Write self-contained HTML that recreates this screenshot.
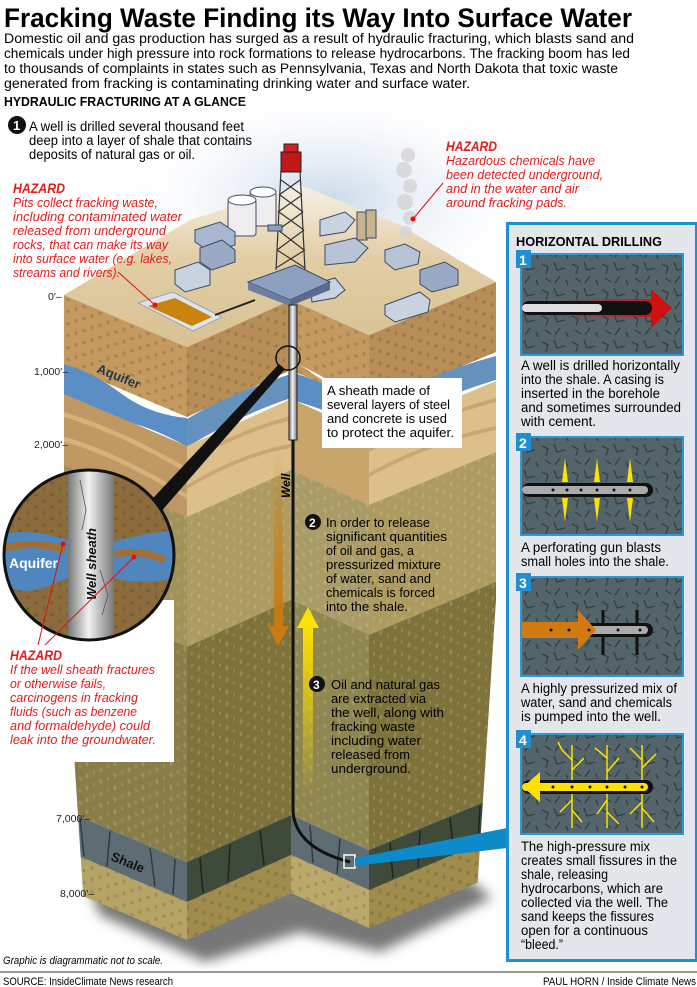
<!DOCTYPE html>
<html><head><meta charset="utf-8"><style>
html,body{margin:0;padding:0;background:#fff;}
svg{display:block;}
text{font-family:"Liberation Sans Narrow","Liberation Sans",sans-serif;}
</style></head><body>
<svg width="697" height="987" viewBox="0 0 697 987" xmlns="http://www.w3.org/2000/svg">
<defs>
<radialGradient id="sky" cx="0.5" cy="0.5" r="0.5"><stop offset="0" stop-color="#c9d9ea"/><stop offset="1" stop-color="#ffffff" stop-opacity="0"/></radialGradient>
<linearGradient id="pad" x1="0" y1="0" x2="0" y2="1"><stop offset="0" stop-color="#f6f1e4"/><stop offset="0.45" stop-color="#e2cea6"/><stop offset="1" stop-color="#d9c194"/></linearGradient>
<pattern id="dots" width="16" height="12" patternUnits="userSpaceOnUse"><ellipse cx="4" cy="3" rx="2.2" ry="1.5" fill="#000" opacity="0.13"/><ellipse cx="12" cy="9" rx="1.6" ry="2.2" fill="#000" opacity="0.12"/></pattern>
<pattern id="ldots" width="14" height="12" patternUnits="userSpaceOnUse"><ellipse cx="3" cy="3" rx="1.5" ry="2.5" fill="#fff" opacity="0.15"/><ellipse cx="10" cy="9" rx="1.2" ry="2" fill="#fff" opacity="0.12"/></pattern>
<pattern id="stone" width="30" height="26" patternUnits="userSpaceOnUse"><rect width="30" height="26" fill="#53646b"/><path d="M2 4 l6 3 -2 7 M14 2 l3 8 8 -2 M20 16 l-5 7 M5 18 l6 4 M26 20 l2 5" stroke="#34403f" stroke-width="1.3" fill="none"/></pattern>
<linearGradient id="orng" x1="0" y1="0" x2="0" y2="1"><stop offset="0" stop-color="#c97a10" stop-opacity="0"/><stop offset="1" stop-color="#c97a10"/></linearGradient>
<linearGradient id="yel" x1="0" y1="1" x2="0" y2="0"><stop offset="0" stop-color="#ffe100" stop-opacity="0"/><stop offset="1" stop-color="#ffe100"/></linearGradient>
<linearGradient id="red" x1="0" y1="0" x2="1" y2="0"><stop offset="0" stop-color="#d01010" stop-opacity="0"/><stop offset="1" stop-color="#d01010"/></linearGradient>
<linearGradient id="pipeg" x1="0" y1="0" x2="1" y2="0"><stop offset="0" stop-color="#777"/><stop offset="0.45" stop-color="#f2f2f2"/><stop offset="1" stop-color="#777"/></linearGradient>
<filter id="blur"><feGaussianBlur stdDeviation="6"/></filter>
<clipPath id="circ"><circle cx="89" cy="555" r="85"/></clipPath>
</defs>

<text x="4" y="27" font-size="27" font-weight="bold" textLength="628" lengthAdjust="spacingAndGlyphs">Fracking Waste Finding its Way Into Surface Water</text>
<g font-size="13.5">
<text x="4" y="43" textLength="630" lengthAdjust="spacingAndGlyphs">Domestic oil and gas production has surged as a result of hydraulic fracturing, which blasts sand and</text>
<text x="4" y="58" textLength="626" lengthAdjust="spacingAndGlyphs">chemicals under high pressure into rock formations to release hydrocarbons. The fracking boom has led</text>
<text x="4" y="73" textLength="614" lengthAdjust="spacingAndGlyphs">to thousands of complaints in states such as Pennsylvania, Texas and North Dakota that toxic waste</text>
<text x="4" y="88" textLength="466" lengthAdjust="spacingAndGlyphs">generated from fracking is contaminating drinking water and surface water.</text>
</g>
<text x="4" y="106" font-size="13" font-weight="bold" textLength="242" lengthAdjust="spacingAndGlyphs">HYDRAULIC FRACTURING AT A GLANCE</text>

<ellipse cx="330" cy="200" rx="220" ry="120" fill="url(#sky)"/>

<polygon points="100,915 205,962 300,932 380,952 492,898 470,880 90,890" fill="#777" filter="url(#blur)"/>

<clipPath id="fa"><polygon points="64,260 187,300 187,1000 90,1000 64,600"/></clipPath>
<g clip-path="url(#fa)"><g transform="matrix(1,0.4228,0,1,0,267.94)">
<rect x="60" y="0" width="130" height="70" fill="#c49a60"/><rect x="60" y="0" width="130" height="70" fill="url(#dots)"/>
<path d="M60 70 Q90 64 120 74 T190 70 V100 Q150 94 120 102 T60 98Z" fill="#5b8ec4"/>
<rect x="60" y="99" width="130" height="72" fill="#c09863"/>
<path d="M60 120 Q120 112 190 124 M60 145 Q110 136 190 150" stroke="#d4b27c" stroke-width="5" fill="none"/>
<rect x="60" y="170" width="130" height="132" fill="#a09259"/><rect x="60" y="170" width="130" height="132" fill="url(#ldots)"/>
<rect x="60" y="300" width="130" height="215" fill="#8a7e48"/><rect x="60" y="300" width="130" height="215" fill="url(#ldots)"/>
<rect x="60" y="515" width="130" height="40" fill="#5e6d74"/>
<path d="M80 517 l4 36 M110 517 l-3 36 M150 517 l5 36 M175 517 l-2 36" stroke="#2e3a3e" stroke-width="1.5"/>
<rect x="60" y="555" width="130" height="38" fill="#b6a467"/><rect x="60" y="555" width="130" height="38" fill="url(#dots)"/>
</g></g>
<g transform="matrix(1,-0.452,0,1,0,431.5)">
<rect x="187" y="0" width="104" height="70" fill="#b78e58"/><rect x="187" y="0" width="104" height="70" fill="url(#dots)"/>
<path d="M187 72 Q230 66 291 74 V98 Q240 92 187 100Z" fill="#6592bd"/>
<rect x="187" y="99" width="104" height="72" fill="#dcbf89"/>
<path d="M187 115 Q240 108 291 118 M187 140 Q240 132 291 146" stroke="#c9a771" stroke-width="4" fill="none"/>
<rect x="187" y="170" width="104" height="132" fill="#ad9b5f"/><rect x="187" y="170" width="104" height="132" fill="url(#ldots)"/>
<rect x="187" y="300" width="104" height="215" fill="#7f733c"/><rect x="187" y="300" width="104" height="215" fill="url(#ldots)"/>
<rect x="187" y="515" width="104" height="40" fill="#3e4a3a"/>
<path d="M200 517 l3 36 M230 517 l-2 36 M260 517 l4 36" stroke="#1e261c" stroke-width="1.5"/>
<rect x="187" y="555" width="104" height="38" fill="#a08c4c"/><rect x="187" y="555" width="104" height="38" fill="url(#dots)"/>
</g>
<g transform="matrix(1,0.4487,0,1,0,169.4)">
<rect x="291" y="0" width="78" height="70" fill="#c49a60"/><rect x="291" y="0" width="78" height="70" fill="url(#dots)"/>
<path d="M291 72 Q330 66 369 74 V98 Q330 92 291 100Z" fill="#5b8ec4"/>
<rect x="291" y="99" width="78" height="72" fill="#c8a56b"/>
<rect x="291" y="170" width="78" height="132" fill="#aa9c66"/><rect x="291" y="170" width="78" height="132" fill="url(#ldots)"/>
<rect x="291" y="300" width="78" height="215" fill="#8f8650"/><rect x="291" y="300" width="78" height="215" fill="url(#ldots)"/>
<rect x="291" y="515" width="78" height="40" fill="#5e6d74"/>
<path d="M310 517 l3 36 M340 517 l-3 36" stroke="#2e3a3e" stroke-width="1.5"/>
<rect x="291" y="555" width="78" height="38" fill="#bba96c"/><rect x="291" y="555" width="78" height="38" fill="url(#dots)"/>
</g>
<clipPath id="fd"><polygon points="369,200 496,150 496,600 470,1000 369,1000"/></clipPath>
<g clip-path="url(#fd)"><g transform="matrix(1,-0.4173,0,1,0,489)">
<rect x="369" y="0" width="128" height="70" fill="#b78e58"/><rect x="369" y="0" width="128" height="70" fill="url(#dots)"/>
<path d="M369 72 Q430 64 497 74 V98 Q430 90 369 100Z" fill="#6592bd"/>
<rect x="369" y="99" width="128" height="72" fill="#dcbf89"/>
<path d="M369 115 Q430 108 497 118 M369 140 Q430 132 497 146" stroke="#c9a771" stroke-width="4" fill="none"/>
<rect x="369" y="170" width="128" height="132" fill="#ad9b5f"/><rect x="369" y="170" width="128" height="132" fill="url(#ldots)"/>
<rect x="369" y="300" width="128" height="215" fill="#7f733c"/><rect x="369" y="300" width="128" height="215" fill="url(#ldots)"/>
<rect x="369" y="515" width="128" height="40" fill="#3e4a3a"/>
<path d="M390 517 l3 36 M420 517 l-2 36 M450 517 l4 36 M480 517 l-2 36" stroke="#1e261c" stroke-width="1.5"/>
<rect x="369" y="555" width="128" height="38" fill="#a08c4c"/><rect x="369" y="555" width="128" height="38" fill="url(#dots)"/>
</g></g>

<polygon points="64,295 187,347 291,300 369,335 496,282 400,225 300,185 190,220" fill="url(#pad)"/>

<polygon points="138,303 173,292 222,317 193,331" fill="#dfe3ea" stroke="#9aa4b4"/>
<polygon points="148,306 175,298 212,317 192,326" fill="#c8840e"/>
<circle cx="155" cy="305" r="2.5" fill="#e01010"/>
<line x1="155" y1="305" x2="118" y2="272" stroke="#e01010" stroke-width="1"/>
<line x1="215" y1="315" x2="255" y2="300" stroke="#222" stroke-width="2"/>

<g stroke="#3c4a66" stroke-width="1">
<rect x="250" y="192" width="26" height="34" rx="3" fill="#eee"/><ellipse cx="263" cy="192" rx="13" ry="5" fill="#fff"/>
<rect x="228" y="200" width="28" height="36" rx="3" fill="#eee"/><ellipse cx="242" cy="200" rx="14" ry="5" fill="#fff"/>
<rect x="357" y="212" width="10" height="28" fill="#c6b48e"/><rect x="366" y="210" width="10" height="28" fill="#c6b48e"/>
<polygon points="195,230 220,222 235,232 235,245 210,252 195,242" fill="#a8b6cf"/>
<polygon points="200,248 222,240 235,250 235,262 212,270 200,262" fill="#9aaac4"/>
<polygon points="175,270 198,262 210,270 210,285 185,292 175,284" fill="#c8d2e0"/>
<polygon points="320,220 345,212 355,220 345,232 320,236" fill="#c8d2e0"/>
<polygon points="325,245 355,238 368,248 355,262 325,265" fill="#b8c4d6"/>
<polygon points="385,250 405,244 420,252 418,264 395,270 385,262" fill="#b8c4d6"/>
<polygon points="420,270 445,262 458,270 458,285 432,292 420,284" fill="#9aaac4"/>
<polygon points="385,305 420,292 430,300 428,312 395,322 385,315" fill="#c8d2e0"/>
<polygon points="310,285 335,278 345,290 335,298 312,302" fill="#c8d2e0"/>
</g>
<polygon points="248,282 295,265 330,282 290,300" fill="#8ea0c0" stroke="#3c4a66"/>
<polygon points="248,282 290,300 290,306 248,290" fill="#6c7fa2"/>
<polygon points="290,300 330,282 330,290 290,306" fill="#5a6c8e"/>
<g stroke="#333" stroke-width="1.2" fill="none">
<path d="M281 170 L276 270 M300 170 L305 270"/>
<path d="M281 180 L302 195 M300 180 L279 195 M280 195 L303 212 M302 195 L278 212 M279 212 L304 230 M303 212 L278 230 M278 230 L304 250 M304 230 L277 250 M277 250 L305 268 M305 250 L276 268"/>
</g>
<rect x="281" y="152" width="20" height="20" fill="#c01818" stroke="#222"/>
<rect x="284" y="144" width="14" height="8" fill="#d02020" stroke="#222"/>
<rect x="268" y="225" width="14" height="6" fill="#8ea0c0" stroke="#3c4a66"/>
<g fill="#d6d6d6" opacity="0.85"><circle cx="408" cy="155" r="7"/><circle cx="404" cy="170" r="8"/><circle cx="410" cy="186" r="7"/><circle cx="405" cy="202" r="8"/><circle cx="410" cy="218" r="7"/><circle cx="406" cy="232" r="6"/></g>
<circle cx="413" cy="219" r="2.5" fill="#e01010"/>
<line x1="413" y1="219" x2="443" y2="183" stroke="#e01010" stroke-width="1"/>

<rect x="289" y="305" width="8" height="135" fill="url(#pipeg)" stroke="#222" stroke-width="1"/>
<path d="M293 440 V812 Q296 848 350 862" stroke="#111" stroke-width="3" fill="none"/>
<rect x="344" y="855" width="11" height="13" fill="none" stroke="#fff" stroke-width="1.5"/>
<polygon points="355,858 507,828 507,848 355,866" fill="#0d8ac9"/>
<circle cx="288" cy="358" r="12" fill="none" stroke="#111" stroke-width="1.5"/>
<polygon points="300,365 352,392 340,392" fill="#fff"/>

<rect x="274" y="455" width="9" height="172" fill="url(#orng)"/>
<polygon points="268,626 289,626 278,646" fill="#c97a10"/>
<rect x="303" y="625" width="10" height="170" fill="url(#yel)"/>
<polygon points="297,628 319,628 308,607" fill="#ffe100"/>
<text transform="translate(290,498) rotate(-90)" font-size="12" font-weight="bold" font-style="italic">Well</text>

<text transform="translate(96,372) rotate(22)" font-size="13" font-weight="bold" fill="#1f3550">Aquifer</text>
<text transform="translate(110,860) rotate(22)" font-size="13" font-weight="bold" fill="#111">Shale</text>

<rect x="0" y="600" width="174" height="162" fill="#fff"/>
<rect x="0" y="470" width="64" height="140" fill="#fff"/>

<g font-size="10.5" fill="#222">
<text x="48" y="300">0'–</text>
<text x="34" y="375">1,000'–</text>
<text x="34" y="448">2,000'–</text>
<text x="56" y="822">7,000'–</text>
<text x="60" y="897">8,000'–</text>
</g>

<rect x="322" y="378" width="140" height="70" fill="#fff"/>
<g font-size="13">
<text x="327" y="395" textLength="103" lengthAdjust="spacingAndGlyphs">A sheath made of</text>
<text x="327" y="409" textLength="123" lengthAdjust="spacingAndGlyphs">several layers of steel</text>
<text x="327" y="423" textLength="120" lengthAdjust="spacingAndGlyphs">and concrete is used</text>
<text x="327" y="437" textLength="127" lengthAdjust="spacingAndGlyphs">to protect the aquifer.</text>
</g>

<circle cx="313" cy="522" r="8" fill="#111"/><text x="309" y="527" font-size="12" font-weight="bold" fill="#fff">2</text>
<g font-size="13">
<text x="326" y="527" textLength="104" lengthAdjust="spacingAndGlyphs">In order to release</text>
<text x="326" y="541" textLength="121" lengthAdjust="spacingAndGlyphs">significant quantities</text>
<text x="326" y="555" textLength="88" lengthAdjust="spacingAndGlyphs">of oil and gas, a</text>
<text x="326" y="569" textLength="115" lengthAdjust="spacingAndGlyphs">pressurized mixture</text>
<text x="326" y="583" textLength="105" lengthAdjust="spacingAndGlyphs">of water, sand and</text>
<text x="326" y="597" textLength="109" lengthAdjust="spacingAndGlyphs">chemicals is forced</text>
<text x="326" y="611" textLength="82" lengthAdjust="spacingAndGlyphs">into the shale.</text>
</g>
<circle cx="317" cy="684" r="8" fill="#111"/><text x="313" y="689" font-size="12" font-weight="bold" fill="#fff">3</text>
<g font-size="13">
<text x="331" y="689" textLength="109" lengthAdjust="spacingAndGlyphs">Oil and natural gas</text>
<text x="331" y="703" textLength="95" lengthAdjust="spacingAndGlyphs">are extracted via</text>
<text x="331" y="717" textLength="113" lengthAdjust="spacingAndGlyphs">the well, along with</text>
<text x="331" y="731" textLength="84" lengthAdjust="spacingAndGlyphs">fracking waste</text>
<text x="331" y="745" textLength="90" lengthAdjust="spacingAndGlyphs">including water</text>
<text x="331" y="759" textLength="79" lengthAdjust="spacingAndGlyphs">released from</text>
<text x="331" y="773" textLength="80" lengthAdjust="spacingAndGlyphs">underground.</text>
</g>

<polygon points="279,364 285,369 152,522 140,512" fill="#111"/>
<g clip-path="url(#circ)">
<rect x="0" y="465" width="180" height="180" fill="#8c6c3c"/>
<rect x="0" y="465" width="180" height="180" fill="url(#dots)"/>
<path d="M0 535 Q30 528 60 538 T120 540 T180 530 V578 Q140 585 110 578 T50 585 T0 580Z" fill="#4f86bd"/>
<path d="M5 548 Q35 540 65 550 M115 555 Q135 548 165 560" stroke="#b06a1a" stroke-width="7" fill="none" opacity="0.85"/>
<rect x="68" y="460" width="46" height="190" fill="url(#pipeg)"/>
<path d="M80 480 l6 30 -4 20 M100 570 l8 25 -6 20" stroke="#555" stroke-width="0.8" fill="none"/>
</g>
<circle cx="89" cy="555" r="85" fill="none" stroke="#111" stroke-width="3"/>
<text x="9" y="568" font-size="14" font-weight="bold" fill="#fff">Aquifer</text>
<text transform="translate(96,600) rotate(-90)" font-size="13" font-weight="bold" font-style="italic" fill="#111">Well sheath</text>
<circle cx="63" cy="544" r="2.5" fill="#e01010"/><circle cx="134" cy="557" r="2.5" fill="#e01010"/>
<line x1="63" y1="544" x2="38" y2="645" stroke="#e01010"/><line x1="134" y1="557" x2="45" y2="645" stroke="#e01010"/>

<g fill="#e31b1b" font-style="italic">
<text x="13" y="193" font-size="13.5" font-weight="bold" textLength="52" lengthAdjust="spacingAndGlyphs">HAZARD</text>
<text x="13" y="207" font-size="13" textLength="145" lengthAdjust="spacingAndGlyphs">Pits collect fracking waste,</text>
<text x="13" y="221" font-size="13" textLength="169" lengthAdjust="spacingAndGlyphs">including contaminated water</text>
<text x="13" y="235" font-size="13" textLength="153" lengthAdjust="spacingAndGlyphs">released from underground</text>
<text x="13" y="249" font-size="13" textLength="155" lengthAdjust="spacingAndGlyphs">rocks, that can make its way</text>
<text x="13" y="263" font-size="13" textLength="159" lengthAdjust="spacingAndGlyphs">into surface water (e.g. lakes,</text>
<text x="13" y="277" font-size="13" textLength="107" lengthAdjust="spacingAndGlyphs">streams and rivers).</text>

<text x="446" y="151" font-size="13.5" font-weight="bold" textLength="51" lengthAdjust="spacingAndGlyphs">HAZARD</text>
<text x="446" y="165" font-size="13" textLength="149" lengthAdjust="spacingAndGlyphs">Hazardous chemicals have</text>
<text x="446" y="179" font-size="13" textLength="157" lengthAdjust="spacingAndGlyphs">been detected underground,</text>
<text x="446" y="193" font-size="13" textLength="133" lengthAdjust="spacingAndGlyphs">and in the water and air</text>
<text x="446" y="207" font-size="13" textLength="121" lengthAdjust="spacingAndGlyphs">around fracking pads.</text>

<text x="10" y="660" font-size="13.5" font-weight="bold" textLength="52" lengthAdjust="spacingAndGlyphs">HAZARD</text>
<text x="10" y="674" font-size="13" textLength="145" lengthAdjust="spacingAndGlyphs">If the well sheath fractures</text>
<text x="10" y="688" font-size="13" textLength="96" lengthAdjust="spacingAndGlyphs">or otherwise fails,</text>
<text x="10" y="702" font-size="13" textLength="128" lengthAdjust="spacingAndGlyphs">carcinogens in fracking</text>
<text x="10" y="716" font-size="13" textLength="127" lengthAdjust="spacingAndGlyphs">fluids (such as benzene</text>
<text x="10" y="730" font-size="13" textLength="140" lengthAdjust="spacingAndGlyphs">and formaldehyde) could</text>
<text x="10" y="744" font-size="13" textLength="146" lengthAdjust="spacingAndGlyphs">leak into the groundwater.</text>
</g>

<circle cx="17" cy="125" r="9" fill="#111"/><text x="13" y="130" font-size="13" font-weight="bold" fill="#fff">1</text>
<g font-size="13.5">
<text x="29" y="131" textLength="215" lengthAdjust="spacingAndGlyphs">A well is drilled several thousand feet</text>
<text x="29" y="145" textLength="223" lengthAdjust="spacingAndGlyphs">deep into a layer of shale that contains</text>
<text x="29" y="159" textLength="166" lengthAdjust="spacingAndGlyphs">deposits of natural gas or oil.</text>
</g>

<rect x="507.5" y="223.5" width="189" height="737" fill="#e3e6ea" stroke="#1f8fd0" stroke-width="3"/>
<text x="516" y="246" font-size="13" font-weight="bold" textLength="146" lengthAdjust="spacingAndGlyphs">HORIZONTAL DRILLING</text>

<g stroke="#2a9ad6" stroke-width="2">
<rect x="521" y="254" width="162" height="101" fill="url(#stone)"/>
<rect x="521" y="437" width="162" height="98" fill="url(#stone)"/>
<rect x="521" y="577" width="162" height="99" fill="url(#stone)"/>
<rect x="521" y="734" width="162" height="100" fill="url(#stone)"/>
</g>
<g fill="#1f8fd0"><rect x="516" y="250" width="15" height="18"/><rect x="516" y="433" width="15" height="18"/><rect x="516" y="573" width="15" height="18"/><rect x="516" y="730" width="15" height="18"/></g>
<g fill="#fff" font-size="14" font-weight="bold"><text x="519" y="265">1</text><text x="519" y="448">2</text><text x="519" y="588">3</text><text x="519" y="745">4</text></g>

<rect x="560" y="299" width="95" height="18" fill="url(#red)"/>
<polygon points="651,289 672,308 651,328" fill="#d01010"/>
<rect x="522" y="301" width="130" height="14" rx="7" fill="#111"/>
<rect x="522" y="304" width="80" height="8" rx="4" fill="#ddd"/>
<g fill="#ffe100"><path d="M565 458 l3 24 h-6z M597 458 l3 24 h-6z M630 458 l3 24 h-6z M565 522 l3 -24 h-6z M597 522 l3 -24 h-6z M630 522 l3 -24 h-6z"/></g>
<rect x="522" y="483" width="131" height="14" rx="7" fill="#111"/>
<rect x="522" y="486" width="126" height="8" rx="4" fill="#aaa"/>
<g fill="#111"><circle cx="553" cy="490" r="1.5"/><circle cx="567" cy="490" r="1.5"/><circle cx="581" cy="490" r="1.5"/><circle cx="597" cy="490" r="1.5"/><circle cx="614" cy="490" r="1.5"/><circle cx="630" cy="490" r="1.5"/></g>
<path d="M603 610 V655 M637 610 V655" stroke="#111" stroke-width="3"/>
<rect x="522" y="623" width="131" height="14" rx="7" fill="#111"/>
<rect x="522" y="626" width="126" height="8" rx="4" fill="#aaa"/>
<rect x="522" y="622" width="60" height="16" fill="#d07a10"/>
<polygon points="578,610 596,630 578,650" fill="#d07a10"/>
<g fill="#111"><circle cx="551" cy="630" r="1.5"/><circle cx="569" cy="630" r="1.5"/><circle cx="589" cy="630" r="1.5"/><circle cx="618" cy="630" r="1.5"/><circle cx="640" cy="630" r="1.5"/></g>
<g stroke="#ffe100" stroke-width="1.5" fill="none">
<path d="M572 745 V828 M572 760 l-10 -10 M572 770 l12 -12 M572 800 l-12 12 M572 810 l10 12 M562 750 l-4 -8"/>
<path d="M607 745 V828 M607 758 l-12 -10 M607 772 l12 -14 M607 800 l-10 14 M607 812 l12 12"/>
<path d="M642 745 V828 M642 760 l-12 -12 M642 768 l14 -14 M642 802 l-12 12 M642 808 l12 14"/>
</g>
<rect x="522" y="780" width="131" height="14" rx="7" fill="#111"/>
<rect x="522" y="783" width="126" height="8" rx="4" fill="#ffe100"/>
<polygon points="540,772 523,787 540,802" fill="#ffe100"/>
<g fill="#111"><circle cx="553" cy="787" r="1.5"/><circle cx="572" cy="787" r="1.5"/><circle cx="590" cy="787" r="1.5"/><circle cx="607" cy="787" r="1.5"/><circle cx="625" cy="787" r="1.5"/><circle cx="642" cy="787" r="1.5"/></g>

<g font-size="13.5">
<text x="521" y="370" textLength="159" lengthAdjust="spacingAndGlyphs">A well is drilled horizontally</text>
<text x="521" y="384" textLength="143" lengthAdjust="spacingAndGlyphs">into the shale. A casing is</text>
<text x="521" y="398" textLength="139" lengthAdjust="spacingAndGlyphs">inserted in the borehole</text>
<text x="521" y="412" textLength="160" lengthAdjust="spacingAndGlyphs">and sometimes surrounded</text>
<text x="521" y="426" textLength="75" lengthAdjust="spacingAndGlyphs">with cement.</text>
<text x="521" y="552" textLength="140" lengthAdjust="spacingAndGlyphs">A perforating gun blasts</text>
<text x="521" y="566" textLength="148" lengthAdjust="spacingAndGlyphs">small holes into the shale.</text>
<text x="521" y="693" textLength="156" lengthAdjust="spacingAndGlyphs">A highly pressurized mix of</text>
<text x="521" y="707" textLength="151" lengthAdjust="spacingAndGlyphs">water, sand and chemicals</text>
<text x="521" y="721" textLength="140" lengthAdjust="spacingAndGlyphs">is pumped into the well.</text>
<text x="521" y="851" textLength="129" lengthAdjust="spacingAndGlyphs">The high-pressure mix</text>
<text x="521" y="865" textLength="156" lengthAdjust="spacingAndGlyphs">creates small fissures in the</text>
<text x="521" y="879" textLength="87" lengthAdjust="spacingAndGlyphs">shale, releasing</text>
<text x="521" y="893" textLength="142" lengthAdjust="spacingAndGlyphs">hydrocarbons, which are</text>
<text x="521" y="907" textLength="147" lengthAdjust="spacingAndGlyphs">collected via the well. The</text>
<text x="521" y="921" textLength="133" lengthAdjust="spacingAndGlyphs">sand keeps the fissures</text>
<text x="521" y="935" textLength="127" lengthAdjust="spacingAndGlyphs">open for a continuous</text>
<text x="521" y="949" textLength="42" lengthAdjust="spacingAndGlyphs">“bleed.”</text>
</g>

<text x="3" y="964" font-size="11" font-style="italic" textLength="160" lengthAdjust="spacingAndGlyphs">Graphic is diagrammatic not to scale.</text>
<line x1="0" y1="972" x2="697" y2="972" stroke="#777" stroke-width="1.5"/>
<text x="3" y="985" font-size="11" textLength="170" lengthAdjust="spacingAndGlyphs">SOURCE: InsideClimate News research</text>
<text x="543" y="985" font-size="11" textLength="153" lengthAdjust="spacingAndGlyphs">PAUL HORN / Inside Climate News</text>
</svg>
</body></html>
